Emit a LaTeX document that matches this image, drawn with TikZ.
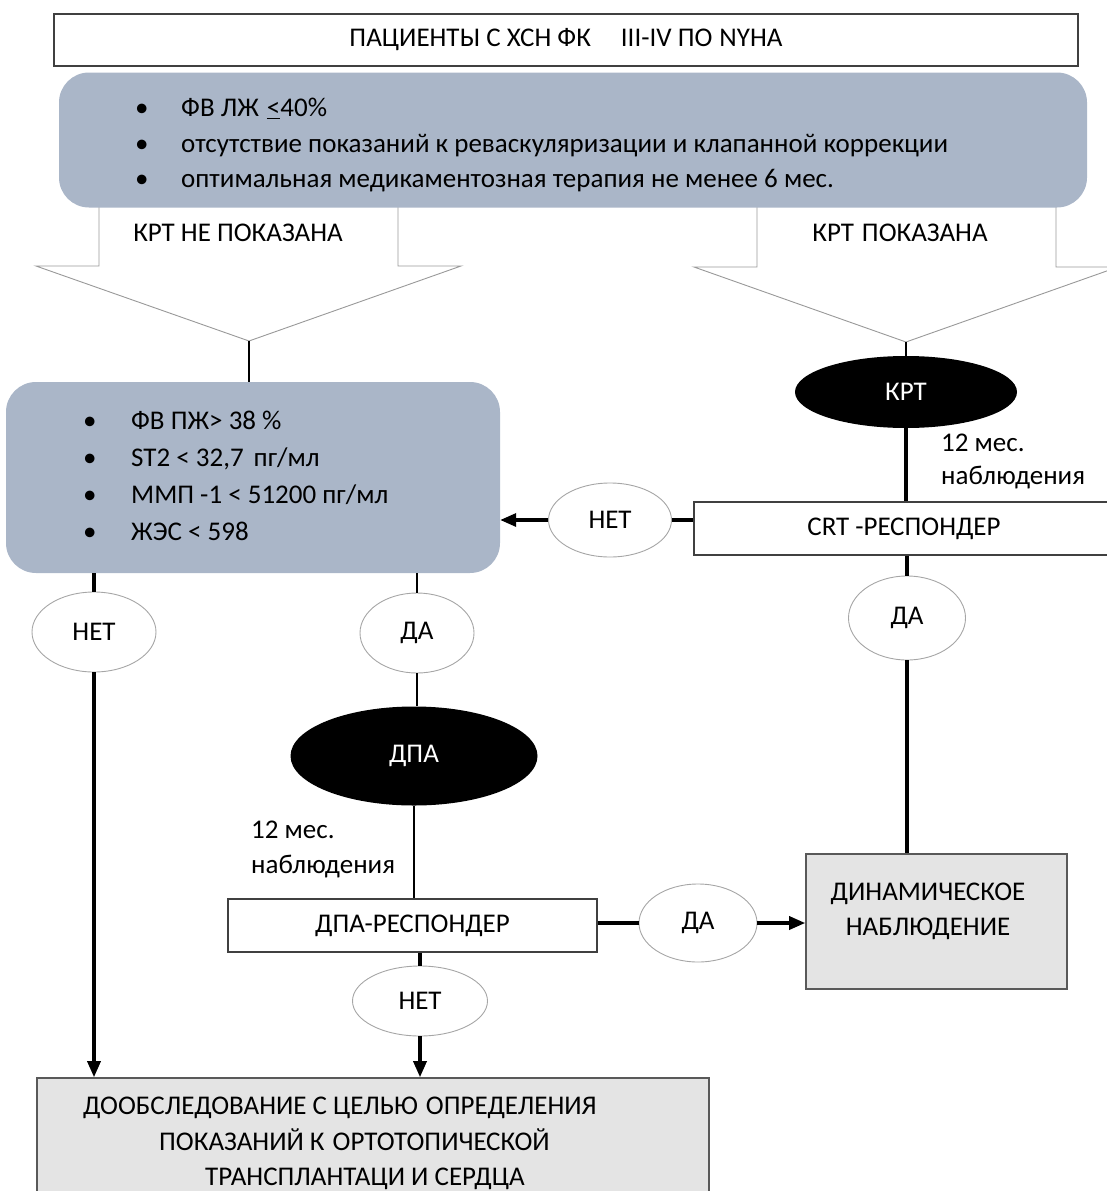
\documentclass[tikz,border=0pt]{standalone}
\usepackage{fontspec}
\setmainfont{Carlito}
\usetikzlibrary{arrows.meta,shapes.geometric}

\definecolor{boxblue}{RGB}{170,182,200}
\definecolor{boxgray}{RGB}{228,228,228}
\newcommand{\chartfont}{\fontsize{27}{35.5}\selectfont}

\begin{document}
\begin{tikzpicture}[x=1pt,y=-1pt,
  every node/.style={font=\chartfont,inner sep=0pt},
  plainbox/.style={draw=black!75,line width=1.3pt,fill=white},
  bluebox/.style={fill=boxblue,rounded corners=30pt},
  graybox/.style={draw=black!65,line width=1.6pt,fill=boxgray},
  answer/.style={ellipse,draw=black!35,line width=0.9pt,fill=white},
  action/.style={ellipse,fill=black,text=white},
  bigarrow/.style={draw=black!40,line width=0.9pt,fill=white},
  link/.style={line width=3.3pt},
  thinlink/.style={line width=1.1pt},
  >={Triangle[length=16pt,width=13pt]}]
  \useasboundingbox (0,0) rectangle (1107,1191);
  \clip (0,0) rectangle (1107,1191);

  % block arrows under the criteria box
  \draw[bigarrow] (99,200) -- (99,266) -- (36,266) -- (249,341) -- (461,266) -- (398,266) -- (398,200);
  \draw[bigarrow] (757,200) -- (757,267) -- (694,267) -- (906,342) -- (1118,267) -- (1056,267) -- (1056,200);
  \coordinate (ltip) at (249,341);
  \coordinate (rtip) at (906,342);
  \node (no) at (238,233) {КРТ НЕ ПОКАЗАНА};
  \node (yes) at (900,233) {КРТ\hspace{8pt}ПОКАЗАНА};

  \node[plainbox, minimum width=1024pt, minimum height=52pt] (title) at (566,40) {ПАЦИЕНТЫ С ХСН ФК\hspace{30pt}III-IV ПО\hspace{7pt}NYHA};
  \node[bluebox, minimum width=1028pt, minimum height=135pt] (crit) at (573,140) {};
  \node[anchor=west] (critx) at (135,145) {\begin{tabular}{@{}p{46pt}@{}l@{}}
    \textbullet & ФВ ЛЖ\hspace{8pt}\underline{<}40\% \\
    \textbullet & отсутствие показаний к реваскуляризации и клапанной коррекции \\
    \textbullet & оптимальная медикаментозная терапия не менее 6 мес.
  \end{tabular}};

  \node[bluebox, minimum width=494pt, minimum height=191pt] (side) at (253,477.5) {};
  \node[anchor=west] (sidex) at (83,477.5) {\fontsize{27}{37}\selectfont\begin{tabular}{@{}p{48pt}@{}l@{}}
    \textbullet & ФВ ПЖ> 38 \% \\
    \textbullet & ST2 < 32,7\hspace{10pt}пг/мл \\
    \textbullet & ММП -1 < 51200 пг/мл \\
    \textbullet & ЖЭС < 598
  \end{tabular}};

  \node[action, minimum width=222pt, minimum height=72pt] (krt) at (906,392) {КРТ};
  \node[anchor=west] (obs1) at (941,461) {\fontsize{27}{33}\selectfont\begin{tabular}{@{}l@{}}12 мес.\\ наблюдения\end{tabular}};
  \node[plainbox, minimum width=420pt, minimum height=53pt] (crt) at (904,528.5) {CRT -РЕСПОНДЕР};
  \node[answer, minimum width=123pt, minimum height=74pt] (net1) at (610,520) {НЕТ};
  \node[answer, minimum width=117pt, minimum height=84pt] (da3) at (907,618) {ДА};

  \node[answer, minimum width=124pt, minimum height=80pt] (net2) at (94,632) {НЕТ};
  \node[answer, minimum width=114pt, minimum height=80pt] (da1) at (417,633) {ДА};
  \node[action, minimum width=247pt, minimum height=99pt] (dpa) at (414,756) {ДПА};
  \node[anchor=west] (obs2) at (251,849) {\fontsize{27}{35}\selectfont\begin{tabular}{@{}l@{}}12 мес.\\ наблюдения\end{tabular}};
  \node[plainbox, minimum width=369pt, minimum height=53pt] (dparesp) at (412.5,925.5) {ДПА-РЕСПОНДЕР};
  \node[answer, minimum width=118pt, minimum height=78pt] (da2) at (698,923) {ДА};
  \node[answer, minimum width=135pt, minimum height=70pt] (net3) at (420,1001) {НЕТ};

  \node[graybox, minimum width=261pt, minimum height=135pt] (dyn) at (936.5,921.5) {};
  \node (dynx) at (928,911) {\begin{tabular}{@{}c@{}}ДИНАМИЧЕСКОЕ\\ НАБЛЮДЕНИЕ\end{tabular}};
  \node[graybox, minimum width=672pt, minimum height=130pt] (final) at (373,1143) {};
  \node[anchor=west] (finalx) at (83,1143) {\begin{tabular}{@{}l@{}}
    ДООБСЛЕДОВАНИЕ С ЦЕЛЬЮ\hspace{8pt}ОПРЕДЕЛЕНИЯ \\
    \hspace*{76pt}ПОКАЗАНИЙ К\hspace{8pt}ОРТОТОПИЧЕСКОЙ \\
    \hspace*{122pt}ТРАНСПЛАНТАЦИ И СЕРДЦА
  \end{tabular}};

  \draw[thinlink] (ltip) to (ltip |- side.north);
  \draw[link, line width=2pt] (rtip) to (krt.north);
  \draw[link] (krt.south) to (krt.south |- crt.north);
  \draw[link] (crt.west |- net1) to (net1.east);
  \draw[link,->] (net1.west) to (net1.west -| side.east);
  \draw[link] (crt.south -| da3) to (da3.north);
  \draw[link] (da3.south) to (dyn.north -| da3);
  \draw[link] (side.south -| net2) to (net2.north);
  \draw[thinlink] (side.south -| da1) to (da1.north);
  \draw[thinlink] (da1.south) to (dpa.north -| da1);
  \draw[thinlink] (dpa.south) to (dpa.south |- dparesp.north);
  \draw[link] (dparesp.east |- da2) to (da2.west);
  \draw[link,->] (da2.east) to (da2.east -| dyn.west);
  \draw[link] (dparesp.south -| net3) to (net3.north);
  \draw[link,->] (net3.south) to (net3.south |- final.north);
  \draw[link,->] (net2.south) to (net2.south |- final.north);
\end{tikzpicture}
\end{document}
